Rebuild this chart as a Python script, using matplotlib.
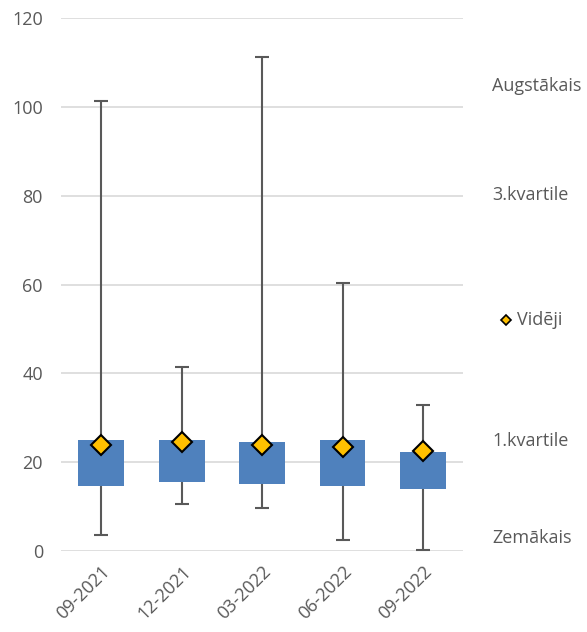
import matplotlib.pyplot as plt
import numpy as np

periods = ["09-2021", "12-2021", "03-2022", "06-2022", "09-2022"]
lowest = [3.6, 10.5, 9.6, 2.5, 0.2]
q1 = [14.6, 15.5, 15.2, 14.6, 13.9]
q3 = [25.1, 25.1, 24.6, 25.1, 22.2]
highest = [101.4, 41.4, 111.2, 60.4, 32.8]
mean = [23.9, 24.5, 23.9, 23.5, 22.5]

legend_labels = ["Augstākais", "3.kvartile", "Vidēji", "1.kvartile", "Zemākais"]

plt.rcParams["font.family"] = ["Open Sans", "DejaVu Sans"]
grey = "#595959"

fig = plt.figure(figsize=(5.87, 6.32), dpi=100)
ax = fig.add_axes([0.104, 0.128, 0.685, 0.8435])

x = np.arange(len(periods))
lowest, q1, q3, highest, mean = map(np.array, (lowest, q1, q3, highest, mean))

# whiskers first, boxes over them
ax.errorbar(x, mean, yerr=[mean - lowest, highest - mean], fmt="none",
            ecolor=grey, elinewidth=1.5, capsize=5, capthick=1.5, zorder=2)
ax.bar(x, q3 - q1, bottom=q1, width=0.57, color="#4F81BD", zorder=3)
ax.plot(x, mean, "D", ms=10.5, mfc="#FFC000", mec="black", mew=1.5,
        linestyle="none", zorder=4)

ax.set_xlim(-0.5, len(periods) - 0.5)
ax.set_ylim(0, 120)
ax.set_yticks(range(0, 121, 20))
ax.set_xticks(x)
ax.set_xticklabels(periods, rotation=45, ha="right", rotation_mode="anchor")
ax.tick_params(axis="both", length=0, colors=grey, labelsize=13)
ax.tick_params(axis="y", pad=13)
ax.tick_params(axis="x", pad=8)
ax.grid(axis="y", color="#d9d9d9", linewidth=1.2, zorder=0)
ax.set_axisbelow(True)
for s in ax.spines.values():
    s.set_visible(False)

# legend written as plain labels on the right
ys = [86, 195, 320, 441, 538]
for lab, yp in zip(legend_labels, ys):
    fy = 1 - yp / 632
    if lab == "Vidēji":
        fig.lines.append(plt.Line2D([506 / 587], [fy], marker="D", ms=5,
                                    mfc="#FFC000", mec="black", mew=1.2,
                                    transform=fig.transFigure))
        fig.text(517 / 587, fy, lab, va="center", ha="left", color=grey, fontsize=13)
    else:
        fig.text(492 / 587, fy, lab, va="center", ha="left", color=grey, fontsize=13)

fig.savefig("out.png", dpi=100)
